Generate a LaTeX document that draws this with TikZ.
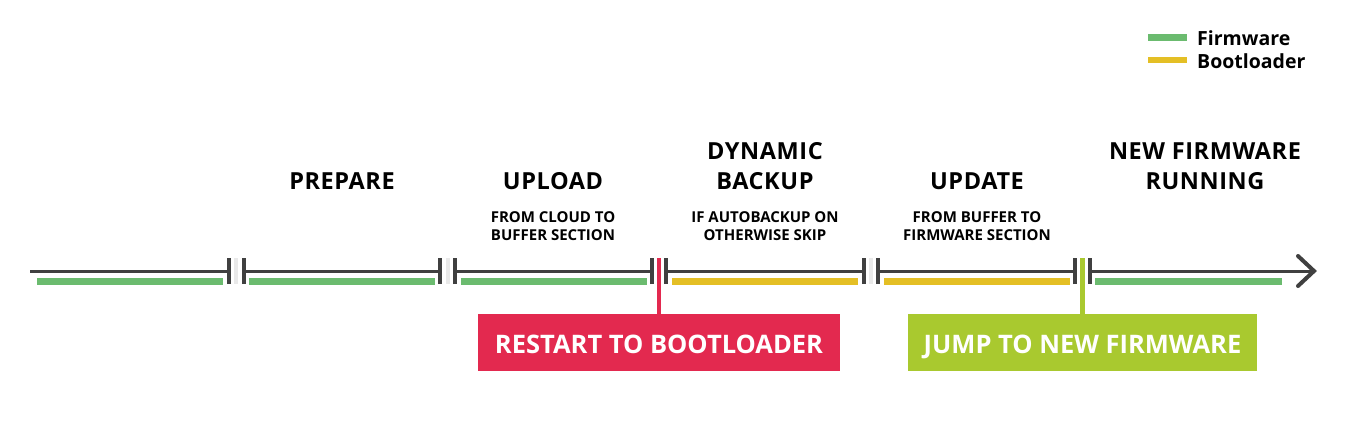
\documentclass[tikz,border=0pt]{standalone}
\usepackage{fontspec}
\setmainfont{Open Sans}[UprightFont=* Bold, BoldFont=* Bold]
\newfontfamily\titlefont{Open Sans}[UprightFont=* Bold, LetterSpace=2.5]
\definecolor{tline}{HTML}{404040}
\definecolor{fwgreen}{HTML}{6BBB6F}
\definecolor{blyellow}{HTML}{E4BF25}
\definecolor{rred}{HTML}{E3294F}
\definecolor{jlime}{HTML}{A9C92F}
\definecolor{gapgray}{HTML}{E9E9E9}
\begin{document}
\begin{tikzpicture}[x=1pt,y=-1pt,
  axis/.style={draw=tline,line width=3pt},
  tick/.style={draw=tline,line width=4pt},
  gapbar/.style={draw=gapgray,line width=4pt},
  fwbar/.style={draw=fwgreen,line width=6.5pt},
  blbar/.style={draw=blyellow,line width=6.5pt},
  title/.style={font=\titlefont\fontsize{23.5}{30}\selectfont,align=center,anchor=base,text=black,inner sep=0pt},
  sub/.style={font=\fontsize{15}{18}\selectfont,align=center,anchor=base,text=black,inner sep=0pt},
  event/.style={font=\fontsize{25.5}{28}\selectfont,text=white,minimum height=57pt,inner sep=0pt,text height=21pt,text depth=0pt},
  legtext/.style={font=\fontsize{19.5}{20}\selectfont,anchor=west,inner sep=0pt,text=black}]
\useasboundingbox (0,0) rectangle (1345,426);
% coordinates along the timeline
\coordinate (s0) at (30,271);
\foreach \n/\a/\b in {1/229/244,2/440/455,3/652/666,4/864/878,5/1075/1090}{
  \coordinate (t\n a) at (\a,271);
  \coordinate (t\n b) at (\b,271);
}
\coordinate (tip) at (1314,271);
% gap fillers
\foreach \n/\x in {1/236,2/447.5,4/871}{
  \coordinate (g\n) at (\x,271);
  \draw[gapbar] ([yshift=-13pt]g\n) -- ([yshift=13pt]g\n);
}
% axis segments
\draw[axis] (s0) -- (t1a);
\draw[axis] (t1b) -- (t2a);
\draw[axis] (t2b) -- (t3a);
\draw[axis] (t3b) -- (t4a);
\draw[axis] (t4b) -- (t5a);
\draw[axis] (t5b) -- ([xshift=-2pt]tip);
\draw[draw=tline,line width=4pt,line cap=round,line join=miter] ([shift={(-16,-15)}]tip) -- (tip) -- ([shift={(-16,15)}]tip);
% ticks
\foreach \n in {1,2,3,4,5}{
  \draw[tick] ([yshift=-13pt]t\n a) -- ([yshift=13pt]t\n a);
  \draw[tick] ([yshift=-13pt]t\n b) -- ([yshift=13pt]t\n b);
}
% coloured bars
\draw[fwbar] (37,281.5) -- (223,281.5);
\draw[fwbar] (249,281.5) -- (435,281.5);
\draw[fwbar] (461,281.5) -- (647,281.5);
\draw[blbar] (672,281.5) -- (858,281.5);
\draw[blbar] (884,281.5) -- (1070,281.5);
\draw[fwbar] (1095,281.5) -- (1282,281.5);
% event boxes
\node[event,fill=rred,minimum width=362pt] (restart) at (659,342.5) {RESTART TO BOOTLOADER};
\node[event,fill=jlime,minimum width=349pt] (jump) at (1082.5,342.5) {JUMP TO NEW FIRMWARE};
\coordinate (rtop) at (659,258);
\coordinate (jtop) at (1082.5,258);
\draw[draw=rred,line width=4pt] (rtop) -- (restart.north);
\draw[draw=jlime,line width=4.5pt] (jtop) -- (jump.north);
% phase titles
\node[title] (prepare) at (342,189.5) {PREPARE};
\node[title] (upload) at (553,189.5) {UPLOAD};
\node[sub] (uploadsub) at (553,240) {FROM CLOUD TO\\BUFFER SECTION};
\node[title] (backup) at (765,189.5) {DYNAMIC\\BACKUP};
\node[sub] (backupsub) at (765,240) {IF AUTOBACKUP ON\\OTHERWISE SKIP};
\node[title] (update) at (977,189.5) {UPDATE};
\node[sub] (updatesub) at (977,240) {FROM BUFFER TO\\FIRMWARE SECTION};
\node[title] (running) at (1205,189.5) {NEW FIRMWARE\\RUNNING};
% legend
\draw[draw=fwgreen,line width=7pt] (1148,37.5) -- (1187,37.5);
\draw[draw=blyellow,line width=6.5pt] (1148,60) -- (1187,60);
\node[legtext] (lfw) at (1197,38.5) {Firmware};
\node[legtext] (lbl) at (1197,61.5) {Bootloader};
\end{tikzpicture}
\end{document}
